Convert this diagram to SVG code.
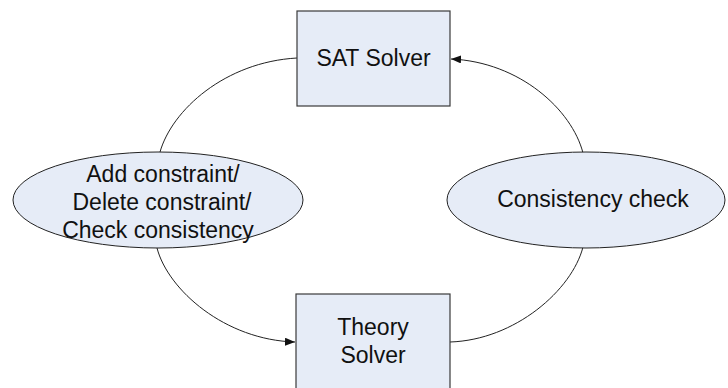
<svg xmlns="http://www.w3.org/2000/svg" width="728" height="388" viewBox="0 0 728 388">
<style>
.box{fill:#e6ecf7;stroke:#3a3a3a;stroke-width:1.2}
.ell{fill:#e6ecf7;stroke:#222;stroke-width:1}
.t{font-family:"Liberation Sans",Arial,sans-serif;font-size:23px;fill:#111;text-anchor:middle}
.c{fill:none;stroke:#222;stroke-width:1}
</style>
<defs>
<marker id="arr" viewBox="0 0 10 8" refX="10" refY="4" markerWidth="10" markerHeight="8" markerUnits="userSpaceOnUse" orient="auto">
<path d="M0,0 L10,4 L0,8 Z" fill="#111"/>
</marker>
</defs>
<g id="connectors">
<path class="c" d="M297,58 C225,62 172,110 160,152"/>
<path class="c" d="M583,153 C572,110 520,62 451,59" marker-end="url(#arr)"/>
<path class="c" d="M157,248 C168,290 225,340 295,342" marker-end="url(#arr)"/>
<path class="c" d="M450,342 C515,340 572,290 583,247"/>
</g>
<g id="sat">
<rect class="box" x="297" y="11" width="153" height="95"/>
<text class="t" x="373.5" y="66">SAT Solver</text>
</g>
<g id="theory">
<rect class="box" x="296" y="294" width="154" height="95"/>
<text class="t" x="373" y="335">Theory</text>
<text class="t" x="373" y="363">Solver</text>
</g>
<g id="ops">
<ellipse class="ell" cx="158" cy="200" rx="145" ry="48"/>
<text class="t" x="163" y="182">Add constraint/</text>
<text class="t" x="162" y="210">Delete constraint/</text>
<text class="t" x="158" y="238">Check consistency</text>
</g>
<g id="check">
<ellipse class="ell" cx="586" cy="200" rx="139" ry="48"/>
<text class="t" x="593" y="207">Consistency check</text>
</g>
</svg>
